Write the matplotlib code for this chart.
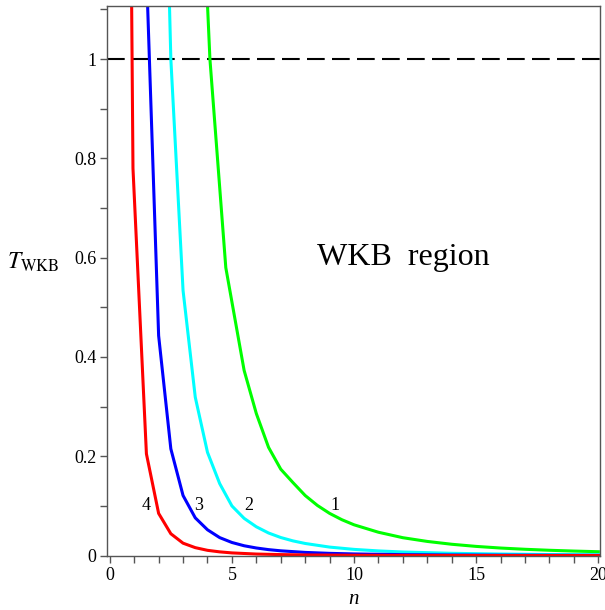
import matplotlib
matplotlib.use("Agg")
import matplotlib.pyplot as plt
from matplotlib.ticker import MultipleLocator

plt.rcParams['font.family'] = ['Liberation Serif', 'DejaVu Serif']
plt.rcParams['mathtext.fontset'] = 'stix'

# curve 1 (green)
n1 = [3.5, 4.1, 4.75, 5.0, 5.5, 6.0, 6.5, 7.0, 7.5, 8.0, 8.5, 9.0, 9.5, 10, 11, 12, 13, 14, 15, 16, 17, 18, 19, 20]
t1 = [1.66, 1.0, 0.58, 0.511, 0.373, 0.286, 0.218, 0.174, 0.147, 0.121, 0.101, 0.085, 0.0723, 0.062,
      0.047, 0.036, 0.0285, 0.0228, 0.0185, 0.0152, 0.0127, 0.0107, 0.0091, 0.0078]
# curve 2 (cyan)
n2 = [2.0, 2.5, 3.0, 3.5, 4.0, 4.5, 5.0, 5.5, 6.0, 6.5, 7.0, 7.5, 8, 9, 10, 11, 12, 14, 16, 18, 20]
t2 = [1.97, 1.0, 0.534, 0.319, 0.208, 0.145, 0.100, 0.075, 0.058, 0.0455, 0.0364, 0.0296, 0.0244,
      0.0171, 0.0125, 0.0094, 0.0072, 0.0046, 0.0031, 0.0021, 0.0016]
# curve 3 (blue)
n3 = [1.5, 2.0, 2.5, 3.0, 3.5, 4.0, 4.5, 5.0, 5.5, 6.0, 6.5, 7, 8, 9, 10, 12, 14, 16, 18, 20]
t3 = [1.18, 0.443, 0.215, 0.121, 0.076, 0.052, 0.0362, 0.0264, 0.0198, 0.0153, 0.012, 0.0096,
      0.0064, 0.0045, 0.0033, 0.0019, 0.0012, 0.0008, 0.00057, 0.00041]
# curve 4 (red)
n4 = [0.5, 0.95, 1.5, 2.0, 2.5, 3.0, 3.5, 4.0, 4.5, 5, 6, 7, 8, 10, 12, 15, 20]
t4 = [3.5, 0.78, 0.205, 0.085, 0.044, 0.025, 0.016, 0.0106, 0.0075, 0.0054, 0.0031, 0.002,
      0.0013, 0.0007, 0.0004, 0.0002, 0.0001]

labels = ['1', '2', '3', '4']
label_x = [9.2, 5.7, 3.65, 1.48]
label_y = [0.1, 0.1, 0.1, 0.1]
colors = ['#00ff00', '#00ffff', '#0000ff', '#ff0000']

fig = plt.figure(figsize=(6.05, 6.10), dpi=100)
ax = fig.add_axes([0.1774, 0.0892, 0.8144, 0.901])

ax.axhline(1.0, color='black', lw=1.5, dashes=(8.5, 3.5))
for nn, tt, c in zip([n1, n2, n3, n4], [t1, t2, t3, t4], colors):
    ax.plot(nn, tt, color=c, lw=2.2)

for s, x, y in zip(labels, label_x, label_y):
    ax.text(x, y, s, fontsize=13, ha='center', va='center')

ax.text(12.0, 0.6, 'WKB  region', fontsize=23, ha='center', va='center')

ax.set_xlim(-0.1, 20.07)
ax.set_ylim(0, 1.107)
ax.xaxis.set_major_locator(MultipleLocator(5))
ax.xaxis.set_minor_locator(MultipleLocator(1))
ax.yaxis.set_major_locator(MultipleLocator(0.2))
ax.yaxis.set_minor_locator(MultipleLocator(0.1))
ax.set_yticks([0, 0.2, 0.4, 0.6, 0.8, 1.0])
ax.set_yticklabels(['0', '0.2', '0.4', '0.6', '0.8', '1'])
ax.tick_params(which='both', direction='out', length=5, width=1, color='#555555',
               labelsize=13, pad=3, top=False, right=False)

for sp in ax.spines.values():
    sp.set_color('#555555')
    sp.set_linewidth(1)

ax.set_xlabel('n', fontsize=15, fontstyle='italic')
ax.xaxis.set_label_coords(0.5, -0.062)
ax.set_ylabel(r'$T_{\mathrm{WKB}}$', fontsize=17, rotation=0, ha='center', va='center')
ax.yaxis.set_label_coords(-0.15, 0.534)

fig.savefig('out.png', dpi=100)
